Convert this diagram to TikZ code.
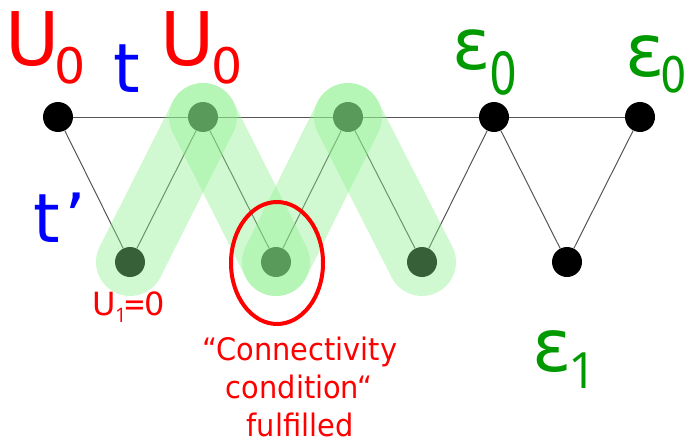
\documentclass[tikz,border=0pt]{standalone}
\usepackage{fontspec}
\setmainfont{DejaVu Sans}
\newfontfamily\onefont{Open Sans}
\usetikzlibrary{shapes.geometric}
\definecolor{bandgreen}{RGB}{140,240,140}
\definecolor{labred}{RGB}{255,0,0}
\definecolor{labblue}{RGB}{0,0,255}
\definecolor{labgreen}{RGB}{0,153,0}
\definecolor{edgegray}{RGB}{85,85,85}
\newcommand{\fs}[1]{\fontsize{#1}{#1}\selectfont}
\newcommand{\xs}[2]{\scalebox{#1}[1]{#2}}
\begin{document}
\begin{tikzpicture}[x=1pt,y=-1pt,
  vert/.style={circle,fill=black,minimum size=30pt,inner sep=0pt},
  edge/.style={draw=edgegray,line width=1pt},
  band/.style={draw=bandgreen,line width=68pt,line cap=round,draw opacity=0.4},
  lab/.style={anchor=base west,inner sep=0pt},
  note/.style={anchor=base,inner sep=0pt,text=labred,font=\fs{31}}]
\useasboundingbox (0,0) rectangle (688,439);
% vertices
\node[vert] (a1) at (58,117) {};
\node[vert] (a2) at (203,117) {};
\node[vert] (a3) at (348,117) {};
\node[vert] (a4) at (494,117) {};
\node[vert] (a5) at (640,117) {};
\node[vert] (b1) at (130,262) {};
\node[vert] (b2) at (276,262) {};
\node[vert] (b3) at (422,262) {};
\node[vert] (b4) at (567,262) {};
% edges
\draw[edge] (a1) -- (a2) -- (a3) -- (a4) -- (a5);
\draw[edge] (a1) -- (b1) -- (a2) -- (b2) -- (a3) -- (b3) -- (a4) -- (b4) -- (a5);
% green bands
\draw[band] (b1.center) -- (a2.center);
\draw[band] (a2.center) -- (b2.center);
\draw[band] (b2.center) -- (a3.center);
\draw[band] (a3.center) -- (b3.center);
% red ellipse
\node[draw=labred,line width=4pt,ellipse,minimum width=92pt,minimum height=122pt,inner sep=0pt] (cond) at (277,263) {};
% labels
\node[lab,text=labred,font=\fs{74}] (u0a) at (5.7,65) {U};
\node[lab,text=labred,font=\fs{49}] (u0asub) at (53.8,83) {0};
\node[lab,text=labblue,font=\fs{68}] (tlab) at (113,92) {t};
\node[lab,text=labred,font=\fs{74}] (u0b) at (160.7,65) {U};
\node[lab,text=labred,font=\fs{49}] (u0bsub) at (210.8,83) {0};
\node[lab,text=labblue,font=\fs{68}] (tplab) at (33,242) {t\kern5pt’};
\node[lab,text=labgreen,font=\fs{71}] (e0a) at (452,69) {ε};
\node[lab,text=labgreen,font=\fs{58}] (e0asub) at (489,94) {\xs{0.76}{0}};
\node[lab,text=labgreen,font=\fs{73}] (e0b) at (625,76) {ε};
\node[lab,text=labgreen,font=\fs{49}] (e0bsub) at (660,92) {\xs{0.85}{0}};
\node[lab,text=labgreen,font=\fs{73}] (e1) at (532,371) {ε};
\node[lab,text=labgreen,font=\onefont\fs{50}] (e1sub) at (568,388) {1};
\node[lab,text=labred,font=\fs{32}] (u1) at (92,315) {U};
\node[lab,text=labred,font=\onefont\fs{20}] (u1sub) at (115,322) {1};
\node[lab,text=labred,font=\fs{32}] (u1eq) at (123,315) {\xs{0.85}{=}\kern-1pt 0};
\node[note] (c1) at (300,360) {\xs{0.93}{“Connectivity}};
\node[note] (c2) at (299,398) {\xs{0.93}{condition“}};
\node[note] (c3) at (300,436) {\xs{0.93}{fulfilled}};
\end{tikzpicture}
\end{document}
